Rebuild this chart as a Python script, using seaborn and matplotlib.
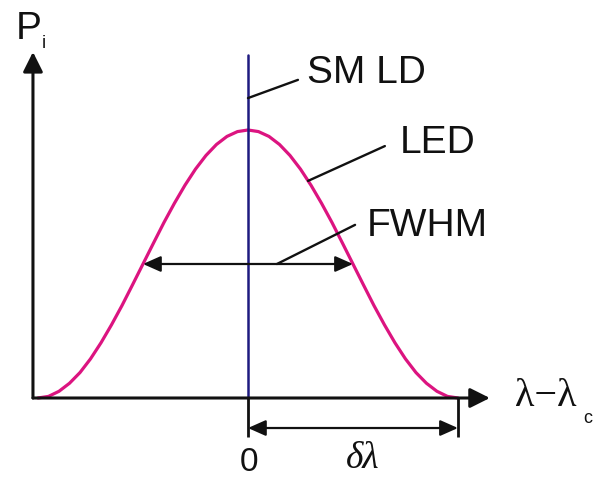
import matplotlib
matplotlib.use("Agg")
import matplotlib.pyplot as plt
import seaborn as sns
import pandas as pd

# Spectral offset (λ - λc) in units of δλ, and normalised LED power
led_offset = [-1.00, -0.95, -0.90, -0.85, -0.80, -0.75, -0.70, -0.65, -0.60, -0.55,
              -0.50, -0.45, -0.40, -0.35, -0.30, -0.25, -0.20, -0.15, -0.10, -0.05,
              0.00, 0.05, 0.10, 0.15, 0.20, 0.25, 0.30, 0.35, 0.40, 0.45,
              0.50, 0.55, 0.60, 0.65, 0.70, 0.75, 0.80, 0.85, 0.90, 0.95, 1.00]
led_power = [0.000, 0.006, 0.025, 0.055, 0.095, 0.146, 0.206, 0.273, 0.345, 0.422,
             0.500, 0.578, 0.655, 0.727, 0.794, 0.854, 0.905, 0.946, 0.976, 0.994,
             1.000, 0.994, 0.976, 0.946, 0.905, 0.854, 0.794, 0.727, 0.655, 0.578,
             0.500, 0.422, 0.345, 0.273, 0.206, 0.146, 0.095, 0.055, 0.025, 0.006, 0.000]

# Single-mode laser diode: a narrow line at λc
sm_ld_offset = [0.0, 0.0]
sm_ld_power = [0.0, 1.28]

# Full width at half maximum of the LED spectrum
fwhm_edges = [-0.5, 0.5]
half_max = 0.5

led = pd.DataFrame({"offset": led_offset, "power": led_power})
sm = pd.DataFrame({"offset": sm_ld_offset, "power": sm_ld_power})

sns.set_theme(style="white")
plt.rcParams["font.family"] = ["Liberation Sans", "DejaVu Sans"]

fig = plt.figure(figsize=(5.94, 4.78), dpi=100)
ax = fig.add_axes([0, 0, 1, 1])
ax.set_xlim(-1.181, 1.648)
ax.set_ylim(-0.2985, 1.485)
ax.axis("off")

MAGENTA = "#DC1480"
NAVY = "#1E1A80"
BLACK = "#111111"

sns.lineplot(data=led, x="offset", y="power", ax=ax, color=MAGENTA, lw=2.3,
             sort=False, estimator=None)
sns.lineplot(data=sm, x="offset", y="power", ax=ax, color=NAVY, lw=1.8,
             sort=False, estimator=None)

def arrow(start, end, style="-|>", lw=2.2, scale=14, hl=0.8, hw=0.4):
    ax.annotate("", xy=end, xytext=start,
                arrowprops=dict(arrowstyle=f"{style},head_length={hl},head_width={hw}",
                                mutation_scale=scale, lw=lw, color=BLACK,
                                shrinkA=0, shrinkB=0))

# Axes with arrow heads
x0 = -1.024
arrow((x0, 0), (x0, 1.291), scale=15)
arrow((x0, 0), (1.152, 0), scale=15)

# Tick marks below the baseline at λc and at the spectrum edge
ax.plot([0, 0], [0, -0.146], color=BLACK, lw=2.0, solid_capstyle="butt")
ax.plot([1, 1], [0, -0.146], color=BLACK, lw=2.0, solid_capstyle="butt")

# δλ double arrow
arrow((0, -0.112), (1, -0.112), style="<|-|>", lw=1.6, scale=12, hl=0.9, hw=0.4)

# FWHM double arrow
arrow((fwhm_edges[0], half_max), (fwhm_edges[1], half_max), style="<|-|>", lw=1.6,
      scale=12, hl=0.9, hw=0.4)

# Leader lines
ax.plot([0, 0.238], [1.119, 1.187], color=BLACK, lw=1.7)
ax.plot([0.286, 0.652], [0.81, 0.940], color=BLACK, lw=1.7)
ax.plot([0.138, 0.51], [half_max, 0.646], color=BLACK, lw=1.7)

# Labels
fs = 28
ax.text(0.281, 1.175, "SM LD", fontsize=fs, color=BLACK, va="baseline", ha="left")
ax.text(0.724, 0.914, "LED", fontsize=fs, color=BLACK, va="baseline", ha="left")
ax.text(0.567, 0.604, "FWHM", fontsize=fs, color=BLACK, va="baseline", ha="left")
ax.text(-1.105, 1.34, "P", fontsize=fs, color=BLACK, va="baseline", ha="left")
ax.text(-0.981, 1.306, "i", fontsize=13, color=BLACK, va="baseline", ha="left")
ax.text(1.271, -0.03, "λ−λ", fontsize=29, color=BLACK, va="baseline", ha="left",
        family=["Liberation Serif", "DejaVu Serif"])
ax.text(1.595, -0.093, "c", fontsize=13, color=BLACK, va="baseline", ha="left")
ax.text(0.005, -0.272, "0", fontsize=24, color=BLACK, va="baseline", ha="center")
ax.text(0.548, -0.262, "δλ", fontsize=27, color=BLACK, va="baseline", ha="center",
        style="italic", family=["Liberation Serif", "DejaVu Serif"])

fig.savefig("out.png", dpi=100, facecolor="white")
